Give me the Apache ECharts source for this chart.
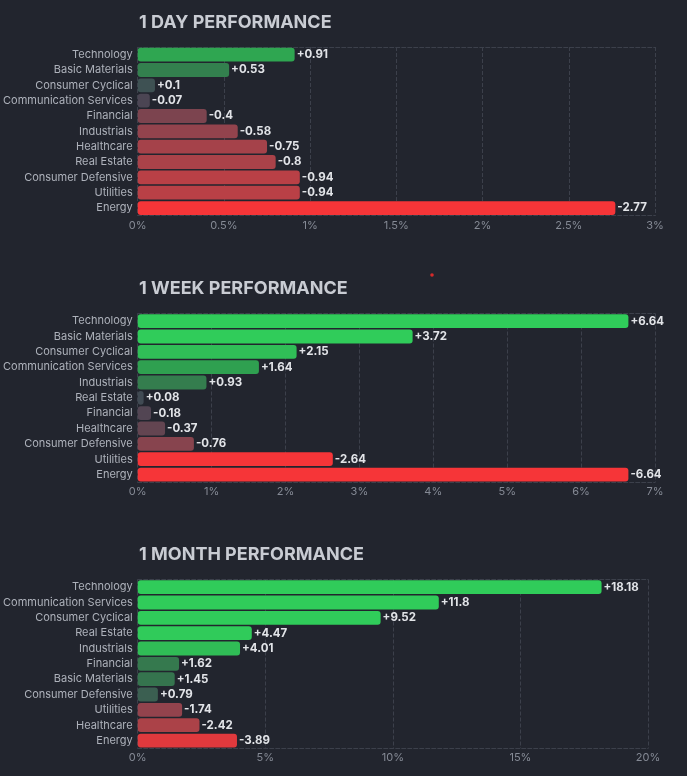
<!DOCTYPE html>
<html>
<head>
<meta charset="utf-8">
<script src="https://cdn.jsdelivr.net/npm/echarts@6/dist/echarts.min.js"></script>
<style>
html,body{margin:0;padding:0;background:#22252e;}
#c{width:687px;height:776px;}
</style>
</head>
<body>
<div id="c"></div>
<script>
// ---- data ----
const titles = ['1 DAY PERFORMANCE', '1 WEEK PERFORMANCE', '1 MONTH PERFORMANCE'];

const dayCategories = ['Technology','Basic Materials','Consumer Cyclical','Communication Services','Financial','Industrials','Healthcare','Real Estate','Consumer Defensive','Utilities','Energy'];
const dayValues = [0.91, 0.53, 0.1, -0.07, -0.4, -0.58, -0.75, -0.8, -0.94, -0.94, -2.77];
const dayTicks = { max: 3, interval: 0.5 };

const weekCategories = ['Technology','Basic Materials','Consumer Cyclical','Communication Services','Industrials','Real Estate','Financial','Healthcare','Consumer Defensive','Utilities','Energy'];
const weekValues = [6.64, 3.72, 2.15, 1.64, 0.93, 0.08, -0.18, -0.37, -0.76, -2.64, -6.64];
const weekTicks = { max: 7, interval: 1 };

const monthCategories = ['Technology','Communication Services','Consumer Cyclical','Real Estate','Industrials','Financial','Basic Materials','Consumer Defensive','Utilities','Healthcare','Energy'];
const monthValues = [18.18, 11.8, 9.52, 4.47, 4.01, 1.62, 1.45, 0.79, -1.74, -2.42, -3.89];
const monthTicks = { max: 20, interval: 5 };

// ---- styling helpers ----
const colorStepsPos = [0.42, 0.8, 1.5];
const colorStepsNeg = [0.5, 0.8, 1.5];
const posStops = ['#414554', '#35764e', '#2f9e4f', '#30cc5a'];
const negStops = ['#414554', '#8b444e', '#bf4045', '#f63538'];
function hex2rgb(h){ return [parseInt(h.slice(1,3),16), parseInt(h.slice(3,5),16), parseInt(h.slice(5,7),16)]; }
function colorFor(v, i){
  const stops = v >= 0 ? posStops : negStops;
  const step = v >= 0 ? colorStepsPos[i] : colorStepsNeg[i];
  let t = Math.min(Math.abs(v) / step, 3);
  const k0 = Math.min(Math.floor(t), 2);
  const f = t - k0;
  const a = hex2rgb(stops[k0]), b = hex2rgb(stops[k0+1]);
  const c = a.map((x, k) => Math.round(x + (b[k] - x) * f));
  return 'rgb(' + c.join(',') + ')';
}

const panels = [
  { cats: dayCategories, vals: dayValues, ticks: dayTicks },
  { cats: weekCategories, vals: weekValues, ticks: weekTicks },
  { cats: monthCategories, vals: monthValues, ticks: monthTicks }
];

const gridTops = [47, 313.5, 579.5];
const gridRights = [32, 32, 39];
const titleTops = [9, 275, 541];
const fontFam = 'Inter, Roboto, "Noto Sans", sans-serif';

const option = {
  backgroundColor: '#22252e',
  animation: false,
  title: titles.map((t, i) => ({
    text: t, left: 134, top: titleTops[i],
    textStyle: { color: '#c9ccd3', fontSize: 18, fontWeight: 'bold', fontFamily: fontFam }
  })),
  graphic: [{ type: 'circle', shape: { cx: 432, cy: 275, r: 1.8 }, style: { fill: '#d42a2a' } }],
  grid: panels.map((p, i) => ({ left: 137, right: gridRights[i], top: gridTops[i], height: 168.7 })),
  xAxis: [],
  yAxis: [],
  series: []
};

panels.forEach((p, i) => {
  option.xAxis.push({
    type: 'value', gridIndex: i, min: 0, max: p.ticks.max, interval: p.ticks.interval,
    axisLine: { show: true, lineStyle: { color: '#3c404b', type: 'dashed' } },
    axisTick: { show: false },
    splitLine: { show: true, lineStyle: { color: '#3c404b', type: 'dashed' } },
    axisLabel: { color: '#858a95', fontSize: 11, fontFamily: fontFam, margin: 4, formatter: v => v + '%' }
  });
  option.xAxis.push({
    type: 'value', gridIndex: i, position: 'top', min: 0, max: p.ticks.max, interval: p.ticks.interval,
    axisLine: { show: true, lineStyle: { color: '#3c404b', type: 'dashed' } },
    axisTick: { show: false }, axisLabel: { show: false }, splitLine: { show: false }
  });
  option.yAxis.push({
    type: 'category', gridIndex: i, data: p.cats, inverse: true,
    axisLine: { show: false }, axisTick: { show: false },
    axisLabel: { color: '#aeb2bb', fontSize: 11, fontFamily: fontFam, margin: 5 }
  });
  option.series.push({
    type: 'bar', xAxisIndex: i * 2, yAxisIndex: i,
    barCategoryGap: '10%',
    data: p.vals.map(v => ({
      value: Math.abs(v),
      itemStyle: { color: colorFor(v, i), borderRadius: 3 }
    })),
    label: {
      show: true, position: 'right', distance: 2,
      color: '#e2e4e8', fontSize: 11.5, fontWeight: 'bold', fontFamily: fontFam,
      formatter: params => {
        const v = p.vals[params.dataIndex];
        return (v > 0 ? '+' : '') + v;
      }
    }
  });
});

const chart = echarts.init(document.getElementById('c'), null, { renderer: 'canvas' });
chart.setOption(option);
</script>
</body>
</html>
